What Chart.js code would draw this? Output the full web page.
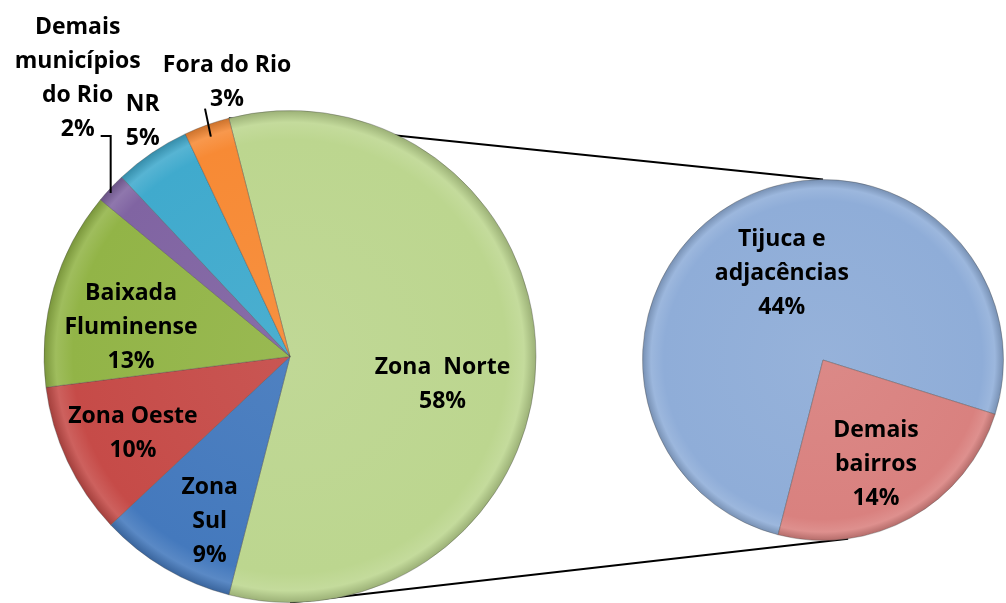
<!DOCTYPE html>
<html>
<head>
<meta charset="utf-8">
<script src="https://cdn.jsdelivr.net/npm/chart.js@4"></script>
<style>
  body { margin: 0; background: #fff; }
  #wrap { position: relative; width: 1006px; height: 603px; overflow: hidden; }
  #wrap canvas { position: absolute; left: 0; top: 0; }
</style>
</head>
<body>
<div id="wrap">
  <canvas id="subPie" width="1006" height="603"></canvas>
  <canvas id="mainPie" width="1006" height="603"></canvas>
</div>
<script>
// dados
const mainLabels = ['Zona Norte', 'Zona Sul', 'Zona Oeste', 'Baixada Fluminense', 'Demais municípios do Rio', 'NR', 'Fora do Rio'];
const mainValues = [58, 9, 10, 13, 2, 5, 3];
const mainColors = ['#bcd68f', '#4479bd', '#c64b48', '#92b447', '#8064a2', '#40aacd', '#f78a35'];
const mainLines = [['Zona  Norte'], ['Zona', 'Sul'], ['Zona Oeste'], ['Baixada', 'Fluminense'], ['Demais', 'municípios', 'do Rio'], ['NR'], ['Fora do Rio']];

const subLabels = ['Tijuca e adjacências', 'Demais bairros'];
const subValues = [44, 14];
const subColors = ['#8fadd8', '#d9817f'];
const subLines = [['Tijuca e', 'adjacências'], ['Demais', 'bairros']];

// posição dos rótulos: fração do raio sobre o ângulo médio + ajuste
const mainSpots = [
  { f: 0.62, dx: 0, dy: 28 },
  { f: 0.745, dx: 13, dy: 7 },
  { f: 0.71, dx: 1, dy: 3 },
  { f: 0.656, dx: -4, dy: 16 },
  { f: 1.0, dx: -33, dy: -110, leader: 'elbow', ex: 23, ey: 58 },
  { f: 1.13, dx: 9, dy: -5 },
  { f: 1.14, dx: 32, dy: -10, leader: 'line', lf: 0.95, ex: -22, ey: 26 }
];
const subSpots = [
  { f: 0.527, dx: 5, dy: -3 },
  { f: 0.65, dx: -4, dy: 2 }
];

const FONT = 'bold 23px "Open Sans", Lato, sans-serif';
const LINE_H = 34;

const shade = (hex, amt) => {
  const n = parseInt(hex.slice(1), 16);
  let r = n >> 16, g = (n >> 8) & 255, b = n & 255;
  const f = v => Math.max(0, Math.min(255, Math.round(amt < 0 ? v * (1 + amt) : v + (255 - v) * amt)));
  return `rgb(${f(r)},${f(g)},${f(b)})`;
};

// sombreado radial parecido com o do Excel
const gradientFill = (colors) => (c) => {
  const base = colors[c.dataIndex];
  const area = c.chart.chartArea;
  if (!area) return base;
  const cx = (area.left + area.right) / 2, cy = (area.top + area.bottom) / 2;
  const r = Math.min(area.right - area.left, area.bottom - area.top) / 2;
  const g = c.chart.ctx.createRadialGradient(cx, cy, 0, cx, cy, r);
  g.addColorStop(0, shade(base, 0.06));
  g.addColorStop(0.88, base);
  g.addColorStop(0.95, shade(base, 0.12));
  g.addColorStop(1, shade(base, -0.18));
  return g;
};

const labelPlugin = (lines, spots) => ({
  id: 'sliceLabels',
  afterDatasetsDraw(chart) {
    const ctx = chart.ctx;
    const vals = chart.data.datasets[0].data;
    ctx.save();
    ctx.font = FONT;
    ctx.fillStyle = '#000';
    ctx.textAlign = 'center';
    ctx.textBaseline = 'middle';
    chart.getDatasetMeta(0).data.forEach((arc, i) => {
      const p = arc.getProps(['x', 'y', 'startAngle', 'endAngle', 'outerRadius'], true);
      const mid = (p.startAngle + p.endAngle) / 2;
      const s = spots[i];
      const ax = p.x + Math.cos(mid) * p.outerRadius * s.f;
      const ay = p.y + Math.sin(mid) * p.outerRadius * s.f;
      const lx = ax + s.dx, ly = ay + s.dy;
      const txt = lines[i].concat(vals[i] + '%');
      txt.forEach((t, k) => ctx.fillText(t, lx, ly + (k - (txt.length - 1) / 2) * LINE_H));
      if (s.leader) {
        ctx.strokeStyle = '#000';
        ctx.lineWidth = 2;
        ctx.beginPath();
        if (s.leader === 'elbow') {
          ctx.moveTo(ax, ay + 5);
          ctx.lineTo(ax, ly + s.ey);
          ctx.lineTo(lx + s.ex, ly + s.ey);
        } else {
          ctx.moveTo(p.x + Math.cos(mid) * p.outerRadius * s.lf, p.y + Math.sin(mid) * p.outerRadius * s.lf);
          ctx.lineTo(lx + s.ex, ly + s.ey);
        }
        ctx.stroke();
      }
    });
    ctx.restore();
  }
});

const baseOptions = (padding, rotation) => ({
  responsive: false,
  animation: false,
  rotation: rotation,
  layout: { padding: padding },
  plugins: { legend: { display: false }, tooltip: { enabled: false } }
});

const mainChart = new Chart(document.getElementById('mainPie'), {
  type: 'pie',
  data: {
    labels: mainLabels,
    datasets: [{
      data: mainValues,
      backgroundColor: gradientFill(mainColors),
      borderColor: 'rgba(70,70,70,0.35)',
      borderWidth: 1
    }]
  },
  options: baseOptions({ left: 43, right: 469, top: 110, bottom: 0 }, -14.4),
  plugins: [labelPlugin(mainLines, mainSpots)]
});

// linhas de ligação entre as duas pizzas
const connectorPlugin = {
  id: 'connectors',
  beforeDatasetsDraw(chart) {
    const a = mainChart.getDatasetMeta(0).data[0].getProps(['x', 'y', 'startAngle', 'outerRadius'], true);
    const b = chart.getDatasetMeta(0).data[0].getProps(['x', 'y', 'outerRadius'], true);
    const ctx = chart.ctx;
    const bottomAngle = 82 * Math.PI / 180;
    ctx.save();
    ctx.strokeStyle = '#000';
    ctx.lineWidth = 2;
    ctx.beginPath();
    ctx.moveTo(a.x + Math.cos(a.startAngle) * a.outerRadius, a.y + Math.sin(a.startAngle) * a.outerRadius);
    ctx.lineTo(b.x, b.y - b.outerRadius);
    ctx.moveTo(a.x, a.y + a.outerRadius);
    ctx.lineTo(b.x + Math.cos(bottomAngle) * b.outerRadius, b.y + Math.sin(bottomAngle) * b.outerRadius);
    ctx.stroke();
    ctx.restore();
  }
};

const subChart = new Chart(document.getElementById('subPie'), {
  type: 'pie',
  data: {
    labels: subLabels,
    datasets: [{
      data: subValues,
      backgroundColor: gradientFill(subColors),
      borderColor: 'rgba(70,70,70,0.35)',
      borderWidth: 1
    }]
  },
  options: baseOptions({ left: 642, right: 2, top: 179, bottom: 62 }, -165.6),
  plugins: [connectorPlugin, labelPlugin(subLines, subSpots)]
});
</script>
</body>
</html>
